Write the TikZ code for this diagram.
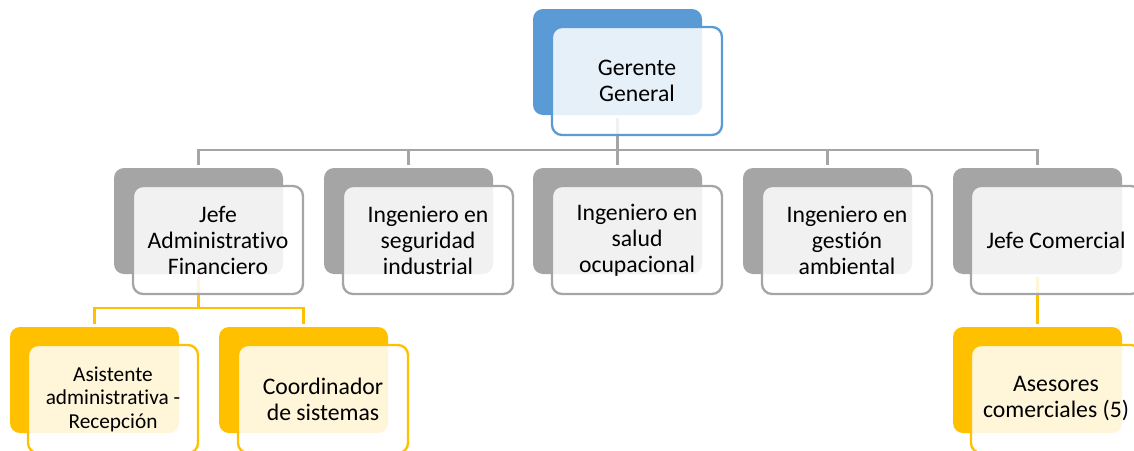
\documentclass[tikz,border=0pt]{standalone}
\usepackage{fontspec}
\setmainfont{Carlito}[Ligatures=NoCommon]
\definecolor{cblue}{HTML}{5B9BD5}
\definecolor{cgray}{HTML}{A5A5A5}
\definecolor{cyel}{HTML}{FFC000}
\begin{document}
\begin{tikzpicture}[x=1pt,y=-1pt,
 backbox/.style={draw=none, fill=#1, rounded corners=10pt, minimum width=169pt, minimum height=106pt, anchor=north west, inner sep=0pt, outer sep=0pt},
 frontbox/.style={draw=#1, line width=2.3pt, fill=white, fill opacity=0.85, text opacity=1, rounded corners=10pt, minimum width=170pt, minimum height=108pt, anchor=north west, inner sep=0pt, outer sep=0pt, align=center, text=black, font=\fontsize{23.7}{26}\selectfont},
 conn/.style={draw=#1, line width=2.2pt},
]
\useasboundingbox (0,0) rectangle (1134,450);
\clip (0,0) rectangle (1134,450);
% back boxes
\node[backbox=cblue] (b-gg) at (533,9) {};
\node[backbox=cgray] (b-jaf) at (114,168) {};
\node[backbox=cgray] (b-iseg) at (324,168) {};
\node[backbox=cgray] (b-isal) at (533,168) {};
\node[backbox=cgray] (b-igest) at (743,168) {};
\node[backbox=cgray] (b-jc) at (953,168) {};
\node[backbox=cyel] (b-asis) at (10,327) {};
\node[backbox=cyel] (b-coord) at (219,327) {};
\node[backbox=cyel] (b-ase) at (953,327) {};
% connectors
\coordinate (bus1) at (0,150);
\coordinate (bus2) at (0,308);
\draw[conn=cgray] ([yshift=-3pt]b-gg.south) -- (b-gg.south |- bus1);
\draw[conn=cgray] ([yshift=3pt]b-jaf.north) -- (b-jaf.north |- bus1) -- (b-jc.north |- bus1) -- ([yshift=3pt]b-jc.north);
\draw[conn=cgray] (b-iseg.north |- bus1) -- ([yshift=3pt]b-iseg.north);
\draw[conn=cgray] (b-isal.north |- bus1) -- ([yshift=3pt]b-isal.north);
\draw[conn=cgray] (b-igest.north |- bus1) -- ([yshift=3pt]b-igest.north);
\draw[conn=cyel] ([yshift=-3pt]b-jaf.south) -- (b-jaf.south |- bus2);
\draw[conn=cyel] ([yshift=3pt]b-asis.north) -- (b-asis.north |- bus2) -- (b-coord.north |- bus2) -- ([yshift=3pt]b-coord.north);
\draw[conn=cyel] ([yshift=-3pt]b-jc.south) -- ([yshift=3pt]b-ase.north);
% front boxes
\node[frontbox=cblue] (gg) at (552,27) {Gerente\\General};
\node[frontbox=cgray] (jaf) at (133,186) {Jefe\\Administrativo\\Financiero};
\node[frontbox=cgray] (iseg) at (343,186) {Ingeniero en\\seguridad\\industrial};
\node[frontbox=cgray] (isal) at (552,186) {Ingeniero en\\salud\\ocupacional};
\node[frontbox=cgray] (igest) at (762,186) {Ingeniero en\\gestión\\ambiental};
\node[frontbox=cgray] (jc) at (971,186) {Jefe Comercial};
\node[frontbox=cyel, font=\fontsize{21.3}{23.5}\selectfont] (asis) at (28,345) {Asistente\\administrativa -\\Recepción};
\node[frontbox=cyel] (coord) at (238,345) {Coordinador\\de sistemas};
\node[frontbox=cyel] (ase) at (971,345) {Asesores\\comerciales (5)};
\end{tikzpicture}
\end{document}
